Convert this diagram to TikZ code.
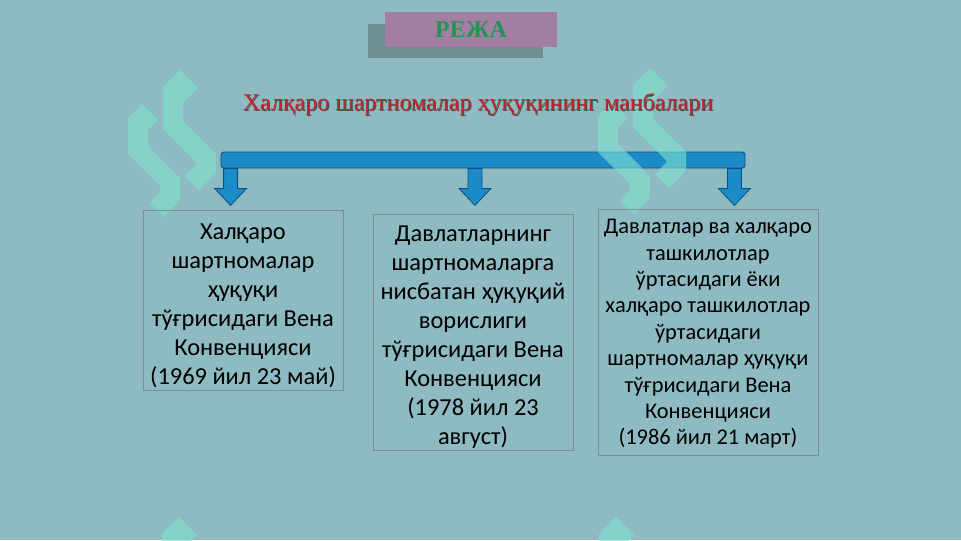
\documentclass[tikz,border=0pt]{standalone}
\usepackage{fontspec}
\setmainfont{Carlito}
\newfontfamily\titlefont{Liberation Serif}
\usepackage{tikz}
\usetikzlibrary{arrows.meta,positioning,calc}
\definecolor{Water}{HTML}{8EBAC1}
\definecolor{Mauve}{HTML}{A27FA2}
\definecolor{ShadowGray}{HTML}{6E8E92}
\definecolor{PlanGreen}{HTML}{1E9650}
\definecolor{TitleRed}{HTML}{C0262A}
\definecolor{BarBlue}{HTML}{1C8CC8}
\definecolor{BarEdge}{HTML}{0C4F7A}
\definecolor{Mint}{HTML}{7FE3CF}
\definecolor{BoxEdge}{HTML}{7E8E92}

\tikzset{
  sourcebox/.style={draw=BoxEdge,line width=0.6pt,align=flush center,inner xsep=0pt,inner ysep=0pt},
  parastroke/.style={draw=Mint,opacity=0.6,line width=15pt,line join=miter,line cap=butt},
  para/.pic={
    \draw[parastroke] (191,95) -- (180,84) -- (173,91) -- (173,125) -- (206,158) -- (206,169) -- (192,183);
    \draw[parastroke] (151,127) -- (142,118) -- (138,122) -- (138,150) -- (170,182) -- (170,196) -- (157,210);
  },
  arrowbody/.style={fill=BarBlue,draw=BarEdge,line width=0.6pt,line join=miter}
}

\begin{document}
\begin{tikzpicture}[x=0.75pt,y=-0.75pt]
        \clip (0,0) rectangle (961,540);
        \fill[Water] (0,0) rectangle (961,540);

        % heading
        \node[fill=ShadowGray,minimum width=131pt,minimum height=25.5pt,inner sep=0pt] (rejashadow) at (455.5,41) {};
        \node[fill=Mauve,minimum width=129pt,minimum height=26.25pt,inner sep=0pt,
          font=\titlefont\fontsize{18}{21}\selectfont\bfseries,text=PlanGreen] (reja) at (471,29.5) {РЕЖА};

        % bar and arrows
        \node[fill=BarBlue,draw=BarEdge,line width=0.6pt,rounded corners=2pt,minimum width=393pt,
          minimum height=12pt,inner sep=0pt] (bar) at (483,160) {};
        \coordinate (a1) at ($(bar.south west)+(10,0)$);
        \coordinate (a2) at ($(bar.south)+(-8,0)$);
        \coordinate (a3) at ($(bar.south east)+(-11,0)$);

        \pic at (0,0) {para};
        \pic at (470,-2) {para};
        \pic at (-1,447) {para};
        \pic at (436,447) {para};

        \node[text=ShadowGray!60!black,font=\titlefont\fontsize{18}{22}\selectfont] (subshadow) at (479,105)
          {Халқаро шартномалар ҳуқуқининг манбалари};
        \node[text=TitleRed,font=\titlefont\fontsize{18}{22}\selectfont] (subtitle) at (478,104)
          {Халқаро шартномалар ҳуқуқининг манбалари};

        \foreach \a in {a1,a2,a3}
          \draw[arrowbody] ($(\a)+(-7,0)$) -- ++(14,0) -- ++(0,20) -- ++(9,0) -- ++(-16,17)
            -- ++(-16,-17) -- ++(9,0) -- cycle;

        % the three conventions
        \node[sourcebox,text width=150pt,minimum height=135pt,font=\fontsize{18.3}{21.75}\selectfont] (one) at (243,300)
          {\rule{0pt}{20pt}Халқаро\\ шартномалар\\ ҳуқуқи\\ тўғрисидаги Вена\\ Конвенцияси\\ (1969 йил 23 май)};
        \node[sourcebox,text width=150pt,minimum height=177pt,font=\fontsize{18.3}{21.75}\selectfont] (two) at (473,332)
          {\rule{0pt}{19pt}Давлатларнинг\\ шартномаларга\\ нисбатан ҳуқуқий\\ ворислиги\\ тўғрисидаги Вена\\ Конвенцияси\\ (1978 йил 23\\ август)};
        \node[sourcebox,text width=165pt,minimum height=184pt,font=\fontsize{16.8}{19.8}\selectfont] (three) at (708,332.5)
          {\rule{0pt}{13pt}Давлатлар ва халқаро\\ ташкилотлар\\ ўртасидаги ёки\\ халқаро ташкилотлар\\ ўртасидаги\\ шартномалар ҳуқуқи\\ тўғрисидаги Вена\\ Конвенцияси\\ (1986 йил 21 март)};
      \end{tikzpicture}
\end{document}
